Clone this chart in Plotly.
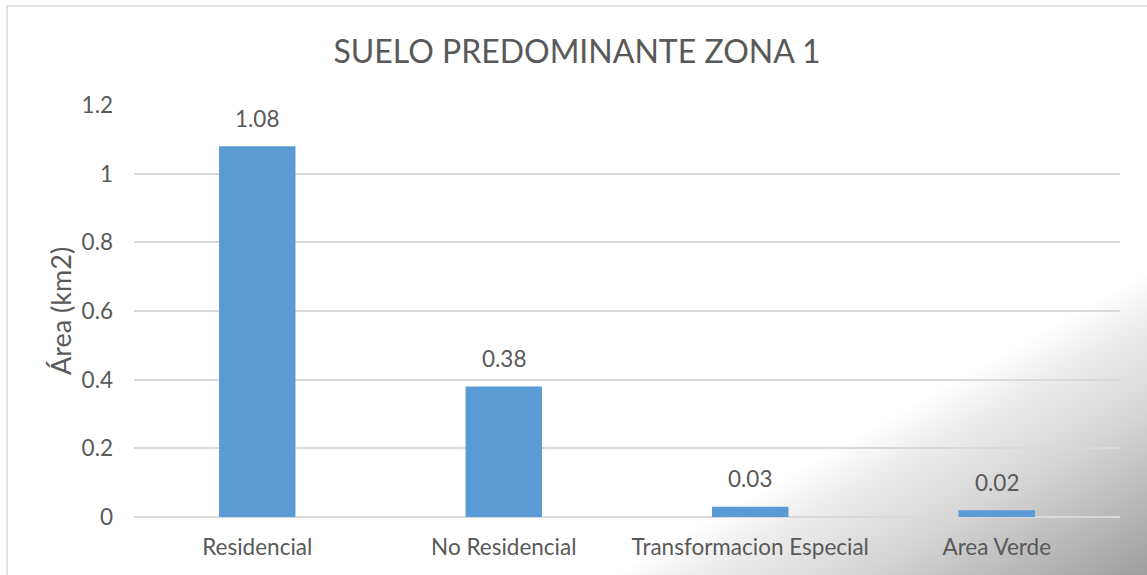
import base64
import plotly.graph_objects as go

categories = ["Residencial", "No Residencial", "Transformacion Especial", "Area Verde"]
values = [1.08, 0.38, 0.03, 0.02]
labels = ["1.08", "0.38", "0.03", "0.02"]
y_ticks = [0, 0.2, 0.4, 0.6, 0.8, 1.0, 1.2]
y_tick_text = ["0", "0.2", "0.4", "0.6", "0.8", "1", "1.2"]
title_text = "SUELO PREDOMINANTE ZONA 1"
y_title = "Área (km2)"

W, H = 1147, 575
L, R, T, B = 134, 27, 105, 58
PW, PH = W - L - R, H - T - B

TEXT = "#595959"
GRID = "#D9D9D9"
BAR = "#5B9BD5"
FONT = "Lato"


def px_x(p):
    return (p - L) / PW


def px_y(p):
    return 1 - (p - T) / PH


svg = f'''<svg xmlns="http://www.w3.org/2000/svg" width="{W}" height="{H}" viewBox="0 0 {W} {H}" preserveAspectRatio="none">
<defs><linearGradient id="g" gradientUnits="userSpaceOnUse" x1="1017" y1="345" x2="1147" y2="575">
<stop offset="0" stop-color="#ffffff"/>
<stop offset="0.15" stop-color="#eeeeee"/>
<stop offset="0.45" stop-color="#d6d6d6"/>
<stop offset="1" stop-color="#9e9e9e"/>
</linearGradient></defs>
<rect x="0" y="0" width="{W}" height="{H}" fill="url(#g)"/>
</svg>'''
svg_uri = "data:image/svg+xml;base64," + base64.b64encode(svg.encode()).decode()

fig = go.Figure()
fig.add_trace(go.Bar(
    x=categories, y=values,
    marker=dict(color=BAR, line=dict(width=0)),
    hoverinfo="skip",
))

annotations = []
for c, v, t in zip(categories, values, labels):
    annotations.append(dict(
        x=c, y=v, xref="x", yref="y", text=t, showarrow=False,
        yanchor="middle", yshift=28,
        font=dict(family=FONT, size=22.5, color=TEXT),
    ))
annotations.append(dict(
    x=px_x(60), y=0.5, xref="paper", yref="paper", text=y_title,
    textangle=-90, showarrow=False, xanchor="center", yanchor="middle",
    font=dict(family=FONT, size=27, color=TEXT),
))

fig.update_layout(
    width=W, height=H,
    margin=dict(l=L, r=R, t=T, b=B),
    paper_bgcolor="white",
    plot_bgcolor="rgba(0,0,0,0)",
    bargap=0.69,
    showlegend=False,
    title=dict(
        text=title_text, x=577 / W, xref="container", xanchor="center",
        y=1 - 52 / H, yref="container", yanchor="middle",
        font=dict(family=FONT, size=32, color=TEXT),
    ),
    xaxis=dict(
        showgrid=False, showline=False, zeroline=False, ticks="",
        tickfont=dict(family=FONT, size=22.5, color=TEXT),
        ticklabelstandoff=14,
    ),
    yaxis=dict(
        range=[0, 1.2], tickvals=y_ticks, ticktext=y_tick_text,
        showgrid=True, gridcolor=GRID, gridwidth=1.5,
        zeroline=True, zerolinecolor=GRID, zerolinewidth=1.5,
        showline=False, ticks="",
        tickfont=dict(family=FONT, size=22.5, color=TEXT),
        ticklabelstandoff=20,
    ),
    annotations=annotations,
    images=[dict(
        source=svg_uri, xref="paper", yref="paper",
        x=px_x(0), y=px_y(0), sizex=W / PW, sizey=H / PH,
        xanchor="left", yanchor="top", sizing="stretch", layer="below",
    )],
    shapes=[dict(
        type="rect", xref="paper", yref="paper",
        x0=px_x(7), y0=px_y(6), x1=px_x(W + 10), y1=px_y(H + 10),
        line=dict(color=GRID, width=1.5), fillcolor="rgba(0,0,0,0)", layer="above",
    )],
)

fig.write_html(
    "out.html",
    config={"displayModeBar": False},
    post_script="document.body.style.margin='0';",
)
